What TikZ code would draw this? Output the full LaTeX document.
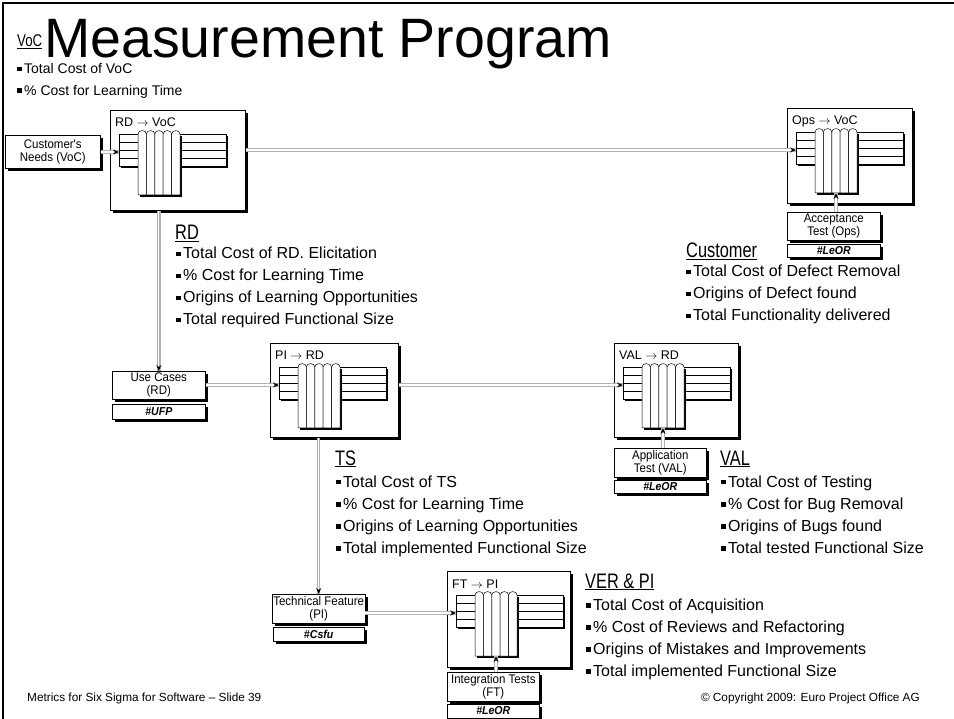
\documentclass[tikz,border=0pt]{standalone}
\usepackage{fontspec}
\setmainfont{Liberation Sans}
\newfontfamily\headsf{Liberation Sans}[FakeStretch=0.78]
\newfontfamily\boxsf{Liberation Sans}[FakeStretch=0.92]
\usetikzlibrary{positioning,shadows,decorations.markings,arrows.meta}

\newcommand{\blt}{\rule[2.5pt]{4.5pt}{4.5pt}\hspace{2.5pt}}

\tikzset{
  docbox/.style={draw, fill=white, line width=.6pt, inner sep=1pt, align=center,
    font=\boxsf\fontsize{12.5}{13}\selectfont,
    drop shadow={shadow xshift=3pt, shadow yshift=-3pt, fill=black, opacity=1}},
  tagbox/.style={docbox, font=\boxsf\bfseries\itshape\fontsize{11.5}{11.5}\selectfont},
  qfdbox/.style={draw, fill=white, line width=.6pt, anchor=north west,
    minimum width=127pt, minimum height=95pt,
    drop shadow={shadow xshift=3pt, shadow yshift=-3pt, fill=black, opacity=1}},
  qfdlabel/.style={anchor=base west, inner sep=0, font=\fontsize{12.5}{12.5}\selectfont},
  head/.style={anchor=base west, inner sep=0, font=\headsf\fontsize{21}{21}\selectfont},
  item/.style={anchor=base west, inner sep=0, font=\fontsize{16}{16}\selectfont},
  foot/.style={inner sep=0, font=\fontsize{11.8}{12}\selectfont},
  link/.style={draw=white, line width=1.3pt, preaction={draw=gray!60, line width=3.4pt},
    postaction={decorate}, decoration={markings,
      mark=at position 1 with {\arrow[black]{Stealth[length=6pt,width=5pt]}}}},
  link2/.style={link, decoration={markings,
      mark=at position 0 with {\arrowreversed[black]{Stealth[length=6pt,width=5pt]}},
      mark=at position 1 with {\arrow[black]{Stealth[length=6pt,width=5pt]}}}},
  pics/qfd/.style={code={
    % rows of the matrix
    \fill (11,26) rectangle (118,58);
    \foreach \row in {0,...,3}
      \filldraw[fill=white, line width=.5pt] (9,{24+8*\row}) rectangle (116,{32+8*\row});
    % columns with round heads
    \fill (30,26) rectangle (72,87);
    \foreach \col in {0,...,4}
      \filldraw[fill=white, line width=.5pt] ({28+8.4*\col},85) -- ({28+8.4*\col},24)
        .. controls ({28+8.4*\col},19.5) and ({36.4+8.4*\col},19.5) .. ({36.4+8.4*\col},24)
        -- ({36.4+8.4*\col},85) -- cycle;
    \node[qfdlabel] (-lbl) at (5,17) {#1};
    \coordinate (-in) at (9,42);
    \coordinate (-bot) at (49,85);
  }}
}

\begin{document}
\begin{tikzpicture}[x=1pt, y=-1pt]
\useasboundingbox (0,0) rectangle (954,719);

% slide frame
\draw[line width=2.5pt] (3,719) -- (3,3) -- (954,3);

% title
\node[anchor=base west, inner sep=0, font=\headsf\fontsize{17}{17}\selectfont] (vochead) at (17,47) {\underline{VoC}};
\node[anchor=base west, inner sep=0, text depth=0pt, font=\fontsize{55.5}{56}\selectfont] (title) at (44,58) {Measurement Program};
\foreach \t [count=\i] in {Total Cost of VoC, \% Cost for Learning Time}
  \node[item, font=\fontsize{14}{14}\selectfont] (voc-\i) at (17,{74+21.5*(\i-1)}) {\blt\t};

% QFD boxes
\node[qfdbox, minimum width=135pt, minimum height=100pt] (rdvoc) at (110,110) {};
\pic (rdvoc) at (rdvoc.north west) {qfd={RD $\rightarrow$ VoC}};
\node[qfdbox, minimum width=125pt] (ops) at (787,108) {};
\pic (ops) at (ops.north west) {qfd={Ops $\rightarrow$ VoC}};
\node[qfdbox, minimum width=128pt, minimum height=94pt] (pird) at (270,343) {};
\pic (pird) at (pird.north west) {qfd={PI $\rightarrow$ RD}};
\node[qfdbox, minimum width=124pt, minimum height=94pt] (val) at (614,343) {};
\pic (val) at (val.north west) {qfd={VAL $\rightarrow$ RD}};
\node[qfdbox, minimum width=123pt, minimum height=96pt] (ftpi) at (447,571) {};
\pic (ftpi) at (ftpi.north west) {qfd={FT $\rightarrow$ PI}};

% work products
\node[docbox, anchor=north west, minimum width=95pt, minimum height=33pt] (needs) at (5,135) {Customer's\\Needs (VoC)};
\node[docbox, anchor=north west, minimum width=93pt, minimum height=28pt] (accept) at (787,212) {Acceptance\\Test (Ops)};
\node[tagbox, minimum width=93pt, minimum height=13pt, below=3pt of accept] (accept-t) {\#LeOR};
\node[docbox, anchor=north west, minimum width=93pt, minimum height=28pt] (usecase) at (112,371) {Use Cases\\(RD)};
\node[tagbox, minimum width=93pt, minimum height=15pt, below=4pt of usecase] (usecase-t) {\#UFP};
\node[docbox, anchor=north west, minimum width=92pt, minimum height=29pt] (apptest) at (614,448) {Application\\Test (VAL)};
\node[tagbox, minimum width=92pt, minimum height=13pt, below=2pt of apptest] (apptest-t) {\#LeOR};
\node[docbox, anchor=north west, minimum width=91pt, minimum height=29pt] (techfeat) at (272,594) {Technical Feature\\(PI)};
\node[tagbox, minimum width=91pt, minimum height=14pt, below=3pt of techfeat] (techfeat-t) {\#Csfu};
\node[docbox, anchor=north west, minimum width=92pt, minimum height=29pt] (integ) at (447,672) {Integration Tests\\(FT)};
\node[tagbox, minimum width=92pt, minimum height=14pt, below=2pt of integ] (integ-t) {\#LeOR};

% connectors
\draw[link] (needs.east |- rdvoc-in) -- (rdvoc-in);
\draw[link] (rdvoc.east |- ops-in) -- (ops-in);
\draw[link] (rdvoc.south -| usecase.north) -- (usecase.north);
\draw[link] (usecase.east |- pird-in) -- (pird-in);
\draw[link] (pird.east |- val-in) -- (val-in);
\draw[link] (pird.south -| techfeat.north) -- (techfeat.north);
\draw[link] (techfeat.east |- ftpi-in) -- (ftpi-in);
\draw[link2] (accept.north -| ops-bot) -- (ops-bot);
\draw[link2] (apptest.north -| val-bot) -- (val-bot);
\draw[link] (integ.north -| ftpi-bot) -- (ftpi-bot);

% measures
\node[head] (rdhead) at (175,240) {\underline{RD}};
\foreach \t [count=\i] in {Total Cost of RD. Elicitation, \% Cost for Learning Time,
    Origins of Learning Opportunities, Total required Functional Size}
  \node[item] (rd-\i) at (176,{259+22*(\i-1)}) {\blt\t};

\node[head] (custhead) at (686,258) {\underline{Customer}};
\foreach \t [count=\i] in {Total Cost of Defect Removal, Origins of Defect found,
    Total Functionality delivered}
  \node[item] (cust-\i) at (686,{277+22*(\i-1)}) {\blt\t};

\node[head] (tshead) at (335,465) {\underline{TS}};
\foreach \t [count=\i] in {Total Cost of TS, \% Cost for Learning Time,
    Origins of Learning Opportunities, Total implemented Functional Size}
  \node[item] (ts-\i) at (336,{487+22*(\i-1)}) {\blt\t};

\node[head] (valhead) at (720,465) {\underline{VAL}};
\foreach \t [count=\i] in {Total Cost of Testing, \% Cost for Bug Removal,
    Origins of Bugs found, Total tested Functional Size}
  \node[item] (val-\i) at (721,{487+22*(\i-1)}) {\blt\t};

\node[head] (verhead) at (585,588) {\underline{VER \& PI}};
\foreach \t [count=\i] in {Total Cost of Acquisition, \% Cost of Reviews and Refactoring,
    Origins of Mistakes and Improvements, Total implemented Functional Size}
  \node[item] (ver-\i) at (586,{610+22*(\i-1)}) {\blt\t};

% footer
\node[foot, anchor=base west] (slide) at (27,701) {Metrics for Six Sigma for Software – Slide 39};
\node[foot, anchor=base east] (copy) at (920,701) {© Copyright 2009: Euro Project Office AG};
\end{tikzpicture}
\end{document}
